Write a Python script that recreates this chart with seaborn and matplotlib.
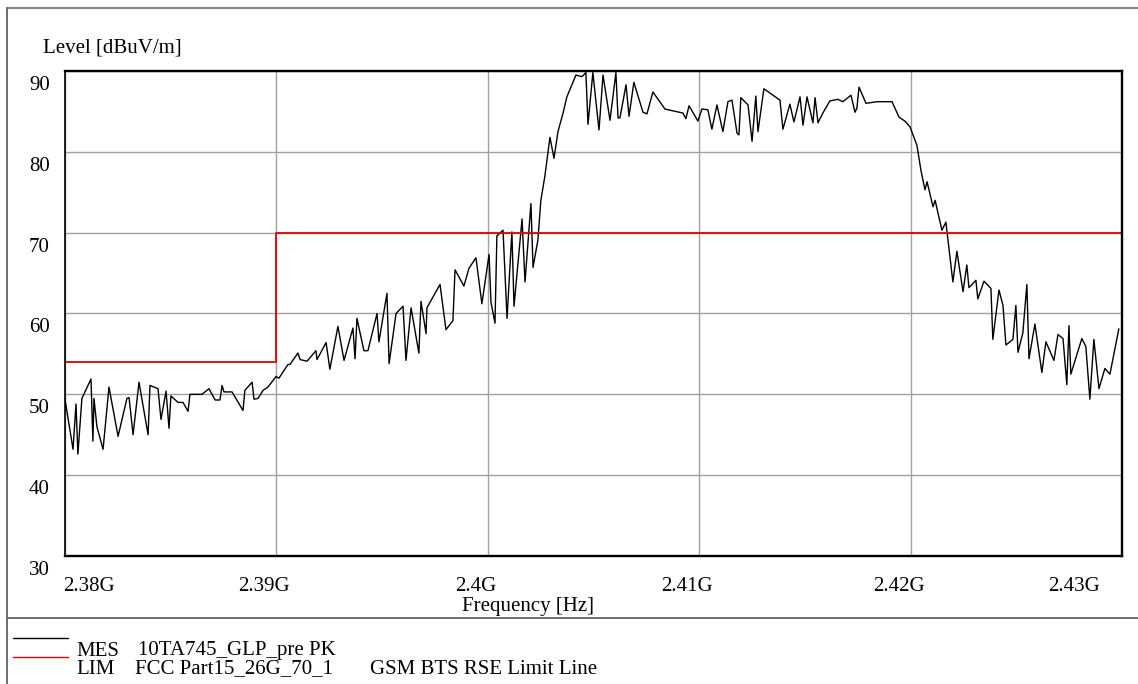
import numpy as np
import pandas as pd
import matplotlib
matplotlib.use("Agg")
import matplotlib.pyplot as plt
from matplotlib.lines import Line2D
from matplotlib.transforms import ScaledTranslation
import seaborn as sns

# ---- data (frequency in MHz, level in dBuV/m) ----
mes_freq_mhz = [
    2380.00, 2380.38, 2380.52, 2380.61, 2380.80, 2381.23, 2381.32, 2381.37, 2381.51, 2381.80,
    2382.08, 2382.51, 2382.93, 2383.03, 2383.22, 2383.50, 2383.93, 2384.02, 2384.40, 2384.54,
    2384.78, 2384.92, 2385.01, 2385.35, 2385.58, 2385.82, 2385.91, 2386.48, 2386.81, 2387.10,
    2387.33, 2387.43, 2387.52, 2387.90, 2388.42, 2388.51, 2388.85, 2388.94, 2389.13, 2389.37,
    2389.60, 2389.98, 2390.12, 2390.55, 2390.64, 2391.02, 2391.12, 2391.45, 2391.87, 2391.92,
    2392.35, 2392.53, 2392.91, 2393.20, 2393.62, 2393.72, 2393.81, 2394.14, 2394.33, 2394.76,
    2394.85, 2395.23, 2395.33, 2395.66, 2395.99, 2396.13, 2396.37, 2396.74, 2396.84, 2397.08,
    2397.12, 2397.74, 2398.02, 2398.35, 2398.45, 2398.87, 2399.11, 2399.44, 2399.72, 2400.06,
    2400.15, 2400.34, 2400.43, 2400.72, 2400.91, 2401.14, 2401.24, 2401.62, 2401.76, 2402.04,
    2402.14, 2402.37, 2402.51, 2402.70, 2402.94, 2403.13, 2403.32, 2403.56, 2403.74, 2404.17,
    2404.45, 2404.64, 2404.74, 2404.97, 2405.26, 2405.45, 2405.78, 2406.06, 2406.16, 2406.25,
    2406.54, 2406.68, 2406.91, 2407.34, 2407.53, 2407.81, 2408.38, 2408.71, 2409.23, 2409.37,
    2409.52, 2409.94, 2410.13, 2410.41, 2410.60, 2410.84, 2411.12, 2411.36, 2411.55, 2411.79,
    2411.88, 2411.97, 2412.31, 2412.50, 2412.68, 2412.78, 2413.06, 2413.82, 2413.96, 2414.29,
    2414.48, 2414.77, 2414.91, 2415.10, 2415.38, 2415.48, 2415.62, 2415.85, 2416.18, 2416.56,
    2416.79, 2417.18, 2417.37, 2417.46, 2417.56, 2417.89, 2418.41, 2419.12, 2419.45, 2419.73,
    2419.97, 2420.30, 2420.49, 2420.68, 2420.78, 2421.06, 2421.16, 2421.48, 2421.67, 2422.00,
    2422.19, 2422.48, 2422.66, 2422.76, 2423.09, 2423.18, 2423.47, 2423.80, 2423.89, 2424.18,
    2424.37, 2424.51, 2424.84, 2424.98, 2425.08, 2425.31, 2425.50, 2425.60, 2425.88, 2426.21,
    2426.40, 2426.78, 2426.97, 2427.21, 2427.39, 2427.49, 2427.58, 2428.10, 2428.29, 2428.48,
    2428.67, 2428.91, 2429.19, 2429.43, 2429.85,
]
mes_level = [
    49.4, 43.2, 48.8, 42.6, 49.5, 51.9, 44.2, 49.5, 46.0, 43.2,
    50.9, 44.8, 49.5, 49.6, 45.0, 51.5, 45.0, 51.1, 50.7, 46.9,
    50.4, 45.8, 49.8, 49.0, 49.0, 47.9, 50.0, 50.0, 50.7, 49.3,
    49.3, 51.1, 50.3, 50.3, 48.0, 50.5, 51.5, 49.4, 49.5, 50.5,
    50.9, 52.2, 52.0, 53.7, 53.7, 55.1, 54.3, 54.1, 55.4, 54.3,
    56.4, 53.1, 58.4, 54.2, 58.2, 54.4, 59.4, 55.4, 55.4, 60.0,
    56.5, 62.5, 53.8, 60.0, 60.9, 54.2, 60.7, 55.1, 61.5, 57.5,
    60.7, 63.6, 58.0, 59.1, 65.4, 63.4, 65.6, 66.9, 61.2, 67.3,
    61.4, 58.8, 69.6, 70.3, 59.4, 70.1, 60.9, 71.7, 63.9, 73.6,
    65.7, 69.1, 74.0, 77.0, 81.8, 79.2, 82.5, 84.8, 86.8, 89.5,
    89.3, 89.8, 83.4, 89.8, 82.7, 89.5, 83.9, 89.8, 84.2, 84.2,
    88.3, 84.4, 88.6, 84.9, 84.7, 87.4, 85.3, 85.1, 84.8, 84.1,
    85.7, 83.8, 85.3, 85.2, 82.8, 85.8, 82.5, 86.2, 86.4, 82.3,
    82.1, 86.7, 85.8, 81.3, 86.9, 82.5, 87.8, 86.4, 82.8, 85.9,
    83.7, 86.8, 83.3, 86.8, 83.6, 86.7, 83.6, 84.8, 86.3, 86.5,
    86.2, 87.0, 84.9, 85.4, 88.0, 86.0, 86.2, 86.2, 84.3, 83.8,
    83.1, 80.8, 77.7, 75.3, 76.3, 73.2, 74.0, 70.3, 71.3, 63.9,
    67.7, 62.7, 66.0, 63.2, 64.1, 61.8, 64.0, 63.1, 56.8, 62.9,
    61.0, 56.1, 56.8, 61.0, 55.2, 57.6, 63.6, 54.4, 58.7, 52.7,
    56.5, 54.2, 57.4, 56.9, 51.2, 58.5, 52.5, 56.9, 55.9, 49.4,
    56.8, 50.7, 53.2, 52.5, 58.1,
]
lim_freq_mhz = [2380.0, 2390.0, 2430.0]
lim_level = [54.0, 70.0, 70.0]

x_ticks_ghz = [2.38, 2.39, 2.40, 2.41, 2.42, 2.43]
x_tick_labels = ["2.38G", "2.39G", "2.4G", "2.41G", "2.42G", "2.43G"]
y_ticks = [30, 40, 50, 60, 70, 80, 90]

mes = pd.DataFrame({"freq": np.array(mes_freq_mhz) * 1e6, "level": mes_level})
lim = pd.DataFrame({"freq": np.array(lim_freq_mhz) * 1e6, "level": lim_level})

sns.set_theme(style="white")
plt.rcParams["font.family"] = ["Liberation Serif", "DejaVu Serif"]
plt.rcParams["text.color"] = "black"
FS = 15

W, H = 1138, 684
fig = plt.figure(figsize=(W / 100, H / 100), dpi=100)
fig.patch.set_facecolor("white")

def fx(px):
    return px / W

def fy(py):
    return 1 - py / H

ax = fig.add_axes([fx(65), fy(556), fx(1122) - fx(65), fy(71) - fy(556)])
ax.set_facecolor("white")

sns.lineplot(data=mes, x="freq", y="level", ax=ax, color="black", lw=1.0,
             sort=False, estimator=None, legend=False)
sns.lineplot(data=lim, x="freq", y="level", ax=ax, color="#e00000", lw=1.3,
             sort=False, estimator=None, legend=False, drawstyle="steps-post")

ax.set_xlim(2.38e9, 2.43e9)
ax.set_ylim(30, 90)
ax.set_xticks([v * 1e9 for v in x_ticks_ghz])
ax.set_xticklabels(x_tick_labels)
ax.set_yticks(y_ticks)
ax.set_yticklabels([str(v) for v in y_ticks])
ax.grid(True, color="#a0a0a0", lw=1.0)
ax.set_axisbelow(True)
for name, s in ax.spines.items():
    s.set_color("black")
    s.set_linewidth(1.2 if name == "left" else 1.7)
ax.set_xlabel("")
ax.set_ylabel("")
ax.tick_params(axis="both", length=0, labelsize=FS, colors="black", labelcolor="black")
ax.tick_params(axis="y", pad=11)
ax.tick_params(axis="x", pad=15)

# tick label offsets (pixels)
for lab in ax.get_yticklabels():
    lab.set_transform(lab.get_transform() + ScaledTranslation(0, -12 / 100, fig.dpi_scale_trans))
x_offsets = [24, -12, -12, -12, -12, -48]
for lab, off in zip(ax.get_xticklabels(), x_offsets):
    lab.set_transform(lab.get_transform() + ScaledTranslation(off / 100, 0, fig.dpi_scale_trans))

# texts
fig.text(fx(43), fy(48), "Level [dBuV/m]", fontsize=FS, ha="left", va="center", color="black")
fig.text(fx(528), fy(606), "Frequency [Hz]", fontsize=FS, ha="center", va="center", color="black")

# frame lines
frame_col = "#6e6e6e"
fig.add_artist(Line2D([fx(7), fx(1138)], [fy(8), fy(8)], color="#8a8a8a", lw=1.6))
fig.add_artist(Line2D([fx(7), fx(7)], [fy(8), fy(684)], color=frame_col, lw=1.4))
fig.add_artist(Line2D([fx(7), fx(1138)], [fy(618), fy(618)], color=frame_col, lw=1.4))

# legend area
fig.add_artist(Line2D([fx(13), fx(68)], [fy(638), fy(638)], color="black", lw=1.0))
fig.add_artist(Line2D([fx(13), fx(68)], [fy(657), fy(657)], color="#e00000", lw=1.0))
fig.text(fx(76), fy(651), "MES", fontsize=FS, ha="left", va="center", color="black")
fig.text(fx(138), fy(651), "10TA745_GLP_pre PK", fontsize=FS, ha="left", va="center", color="black")
fig.text(fx(76), fy(669), "LIM", fontsize=FS, ha="left", va="center", color="black")
fig.text(fx(135), fy(669), "FCC Part15_26G_70_1", fontsize=FS, ha="left", va="center", color="black")
fig.text(fx(370), fy(669), "GSM BTS RSE Limit Line", fontsize=FS, ha="left", va="center", color="black")

fig.savefig("out.png", dpi=100, facecolor="white")
